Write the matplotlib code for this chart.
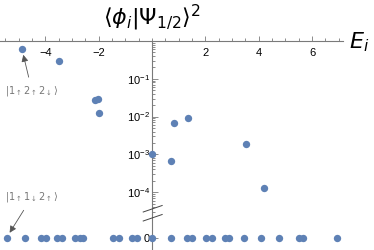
import numpy as np
import matplotlib
matplotlib.use("Agg")
import matplotlib.pyplot as plt
from matplotlib.ticker import FixedLocator, MultipleLocator, LogLocator, NullFormatter, FuncFormatter
import matplotlib.transforms as mtransforms

plt.rcParams['font.family'] = ['Liberation Sans', 'DejaVu Sans']
plt.rcParams['mathtext.default'] = 'regular'

# nonzero overlaps (log part)
E_nonzero = [-4.875, -3.47, -2.14, -2.01, -1.99, 0.01, 0.70, 0.84, 1.34, 3.51, 4.20]
P_nonzero = [0.60, 0.29, 0.027, 0.0295, 0.0126, 0.00104, 0.00068, 0.0066, 0.0093, 0.0019, 0.00013]

# zero overlaps
E_zero = [-5.45, -4.76, -4.17, -3.97, -3.57, -3.38, -2.89, -2.70, -2.57, -1.45, -1.23,
          -0.76, -0.57, 0.01, 0.70, 1.32, 1.49, 2.01, 2.24, 2.74, 2.90, 3.46, 4.09,
          4.77, 5.51, 5.67, 6.94]
P_zero = [0.0] * len(E_zero)

x_major = [-4, -2, 2, 4, 6]
y_major = [1e-1, 1e-2, 1e-3, 1e-4]

color = '#5E81B5'
axcol = '#7a7a7a'
W, H = 374, 250
fig = plt.figure(figsize=(W / 100, H / 100), dpi=100)

xl = (-5.70, 7.16)
axr = 343 / W
ax = fig.add_axes([0, 1 - 214 / H, axr, (214 - 41) / H])
axb = fig.add_axes([0, 0, axr, 36 / H])

for a in (ax, axb):
    a.set_xlim(*xl)
    a.patch.set_visible(False)
    for s in ('top', 'right', 'bottom'):
        a.spines[s].set_visible(False)
    a.spines['left'].set_position(('data', 0))
    a.spines['left'].set_color(axcol)
    a.spines['left'].set_linewidth(0.8)

# top (log) axes
ax.set_yscale('log')
ax.set_ylim(10 ** (-(214 - 41) / 37.8), 1)
ax.spines['top'].set_visible(True)
ax.spines['top'].set_color(axcol)
ax.spines['top'].set_linewidth(0.8)
ax.xaxis.set_major_locator(FixedLocator(x_major))
ax.xaxis.set_minor_locator(MultipleLocator(0.5))
ax.tick_params(axis='x', which='both', bottom=False, top=True, labelbottom=False, labeltop=False,
               direction='out', color=axcol, width=0.6)
ax.tick_params(axis='x', which='major', length=3.5)
ax.tick_params(axis='x', which='minor', length=2.2)
for v in x_major:
    ax.text(v, 0.96, f"{v:g}".replace('-', '\u2212'), transform=ax.get_xaxis_transform(),
            ha='center', va='top', fontsize=8, color='black')

ax.yaxis.set_major_locator(FixedLocator(y_major))
ax.yaxis.set_minor_locator(LogLocator(base=10, subs=np.arange(2, 10), numticks=20))
ax.yaxis.set_minor_formatter(NullFormatter())
ax.yaxis.set_major_formatter(FuncFormatter(lambda v, p: r"$10^{%d}$" % int(round(np.log10(v)))))
ax.tick_params(axis='y', which='both', direction='in', color=axcol, width=0.6, labelsize=8, pad=1.5)
ax.tick_params(axis='y', which='major', length=4)
ax.tick_params(axis='y', which='minor', length=2.2)

ax.scatter(E_nonzero, P_nonzero, s=28, color=color, zorder=3, clip_on=False, linewidths=0)

# bottom (zero) axes
axb.set_ylim(-12.5, 23.5)
axb.xaxis.set_visible(False)
axb.yaxis.set_major_locator(FixedLocator([0]))
axb.yaxis.set_major_formatter(FuncFormatter(lambda v, p: "0"))
axb.tick_params(axis='y', direction='in', length=4, color=axcol, width=0.6, labelsize=8, pad=1.5)
axb.scatter(E_zero, P_zero, s=28, color=color, zorder=3, clip_on=False, linewidths=0)

# axis break marks
tr = mtransforms.blended_transform_factory(axb.transData, fig.transFigure)
for y0 in (1 - 212 / H, 1 - 221 / H):
    fig.add_artist(plt.Line2D([-0.33, 0.38], [y0, y0 + 6.5 / H], transform=tr,
                              color='#444444', lw=0.7))

# annotations
ax.annotate(r"|1$_{\uparrow}$2$_{\uparrow}$2$_{\downarrow}$$\rangle$", xy=(E_nonzero[0], P_nonzero[0]),
            xytext=(32 / W, 1 - 91 / H), textcoords='figure fraction',
            ha='center', va='center', fontsize=7, color='#777777',
            family=['DejaVu Sans'],
            arrowprops=dict(arrowstyle='-|>', color='#555555', lw=0.6, mutation_scale=10,
                            shrinkA=3, shrinkB=4))
axb.annotate(r"|1$_{\uparrow}$1$_{\downarrow}$2$_{\uparrow}$$\rangle$", xy=(E_zero[0], P_zero[0]),
             xytext=(32 / W, 1 - 197 / H), textcoords='figure fraction',
             ha='center', va='center', fontsize=7, color='#777777',
             family=['DejaVu Sans'],
             arrowprops=dict(arrowstyle='-|>', color='#555555', lw=0.6, mutation_scale=10,
                             shrinkA=3, shrinkB=4))

fig.text(152 / W, 1 - 18 / H, r"$\langle\mathit{\phi_i}|\mathit{\Psi}_{1/2}\rangle^2$",
         ha='center', va='center', fontsize=16, family='DejaVu Sans')
fig.text(349 / W, 1 - 42 / H, r"$\mathit{E_i}$", ha='left', va='center', fontsize=16,
         family='DejaVu Sans')

fig.savefig('out.png', dpi=100)
